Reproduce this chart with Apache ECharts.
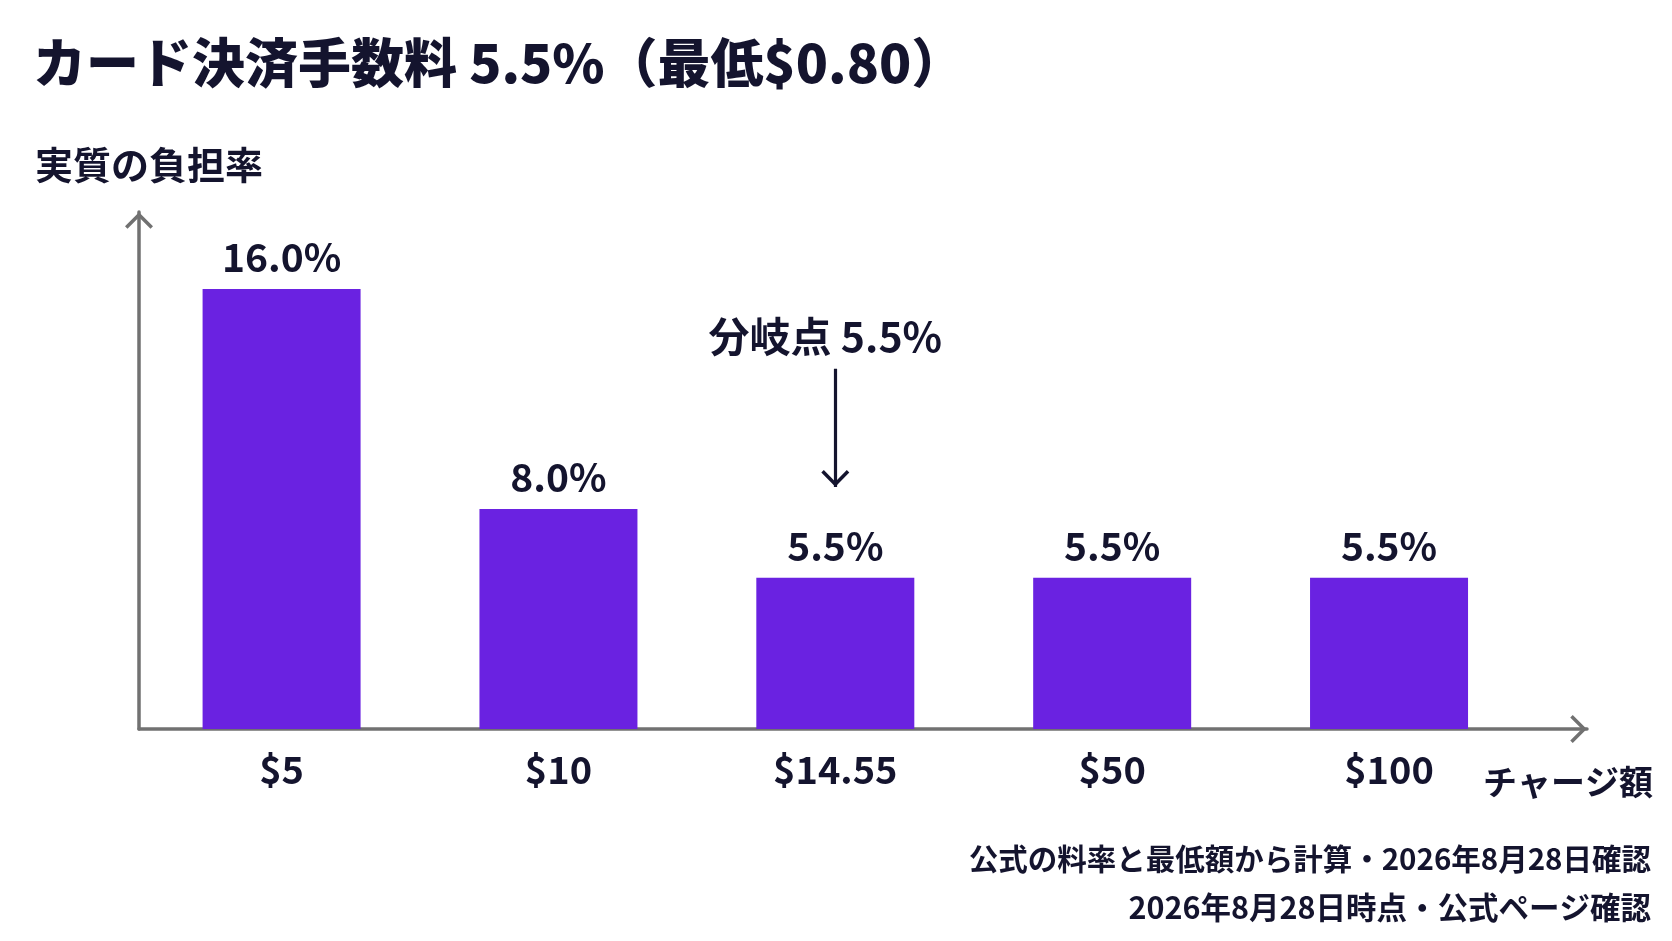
<!DOCTYPE html>
<html>
<head>
<meta charset="utf-8">
<script src="https://cdn.jsdelivr.net/npm/echarts@6/dist/echarts.min.js"></script>
<style>
  html, body { margin: 0; padding: 0; background: #fff; }
  #chart { width: 1672px; height: 941px; }
</style>
</head>
<body>
<div id="chart"></div>
<script>
const categories = ['$5', '$10', '$14.55', '$50', '$100']
const rates = [16.0, 8.0, 5.5, 5.5, 5.5]
const breakEvenIndex = 2
const breakEvenText = '分岐点 5.5%'
const annotFrom = 13.1
const annotTo = 8.8

const titleText = 'カード決済手数料 5.5%（最低$0.80）'
const yName = '実質の負担率'
const xName = 'チャージ額'
const notes = ['公式の料率と最低額から計算・2026年8月28日確認', '2026年8月28日時点・公式ページ確認']

const FONT = '"Noto Sans CJK JP", "Noto Sans", sans-serif'
const INK = '#14142e'
const AXIS = '#717171'
const BAR = '#6a22e1'
// open chevron, tip in the middle of its box so it sits on the line end
const ARROW = 'path://M14,-16.5M0,14.5L14,0.5L28,14.5L25.5,17L14,5.5L2.5,17Z'

const data = rates.map((v, i) => [i, v])

const chart = echarts.init(document.getElementById('chart'))

const text = (size, weight) => ({
  fontFamily: FONT, fontWeight: weight || 'bold', color: INK, fontSize: size, lineHeight: size
})

chart.setOption({
  animation: false,
  backgroundColor: '#fff',
  title: [
    { text: titleText, left: 33, top: 36, padding: 0, textStyle: text(53, 900) },
    { text: yName, left: 35, top: 146, padding: 0, textStyle: text(38) },
    { text: xName, right: 19, top: 765, padding: 0, textStyle: text(34) },
    { text: notes[0], right: 21, top: 844, padding: 0, textStyle: text(29.5) },
    { text: notes[1], right: 21, top: 892, padding: 0, textStyle: text(30.5) }
  ],
  grid: { left: 139, right: 85, top: 212, bottom: 212 },
  xAxis: {
    type: 'value',
    min: -0.515,
    max: 4.715,
    axisLine: {
      show: true,
      symbol: ['none', ARROW],
      symbolSize: [28, 34],
      lineStyle: { color: AXIS, width: 3.5 }
    },
    axisTick: { show: false },
    splitLine: { show: false },
    axisLabel: {
      customValues: categories.map((c, i) => i),
      formatter: v => categories[v],
      margin: 22,
      ...text(38)
    }
  },
  yAxis: {
    type: 'value',
    min: 0,
    max: 18.8,
    axisLine: {
      show: true,
      onZero: false,
      symbol: ['none', ARROW],
      symbolSize: [28, 34],
      lineStyle: { color: AXIS, width: 3.5 }
    },
    axisTick: { show: false },
    splitLine: { show: false },
    axisLabel: { show: false }
  },
  series: [{
    type: 'bar',
    data: data,
    barWidth: 158,
    itemStyle: { color: BAR },
    label: {
      show: true,
      position: 'top',
      distance: 12,
      formatter: p => p.value[1].toFixed(1) + '%',
      ...text(39)
    },
    markLine: {
      silent: true,
      symbol: ['none', ARROW],
      symbolSize: [28, 34],
      lineStyle: { color: INK, width: 3.2, type: 'solid' },
      label: {
        show: true,
        position: 'start',
        distance: 12,
        offset: [-10, 0],
        formatter: breakEvenText,
        ...text(41)
      },
      data: [[
        { coord: [breakEvenIndex, annotFrom] },
        { coord: [breakEvenIndex, annotTo] }
      ]]
    }
  }]
})
</script>
</body>
</html>
